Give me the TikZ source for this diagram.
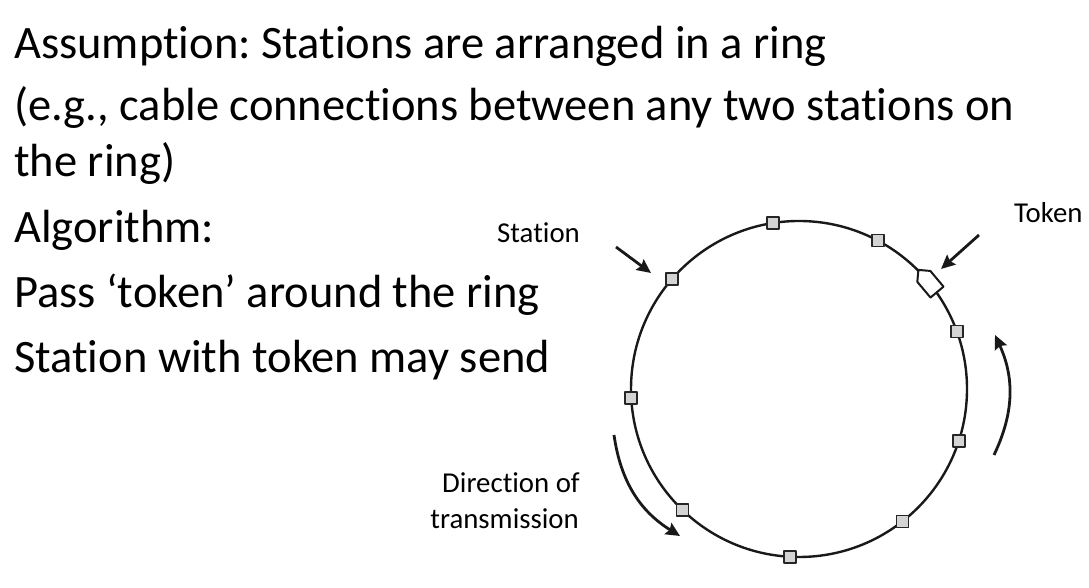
\documentclass[tikz,border=0pt]{standalone}
\usepackage{fontspec}
\setmainfont{Carlito}[Ligatures=NoCommon]
\frenchspacing
\usetikzlibrary{arrows.meta,calc}
\begin{document}
\begin{tikzpicture}[x=1pt,y=1pt,
  line join=round,
  bodytext/.style={anchor=base west, inner sep=0pt, font=\fontsize{46.5}{56}\selectfont},
  labeltext/.style={inner sep=0pt, font=\fontsize{28.8}{34}\selectfont},
  stationbox/.style={draw=black!85, fill=black!17, line width=1.6pt, minimum size=12pt, inner sep=0pt},
  ringline/.style={line width=2.4pt, black!90},
  pointer/.style={line width=2.8pt, black!90, -{Stealth[length=14pt,width=13pt,inset=2pt]}},
]
\useasboundingbox (0,0) rectangle (1089,588);

% slide text
\node[bodytext] (l1) at (14,529) {Assumption: Stations are arranged in a ring};
\node[bodytext] (l2) at (14,467) {(e.g., cable connections between any two stations on};
\node[bodytext] (l3) at (14,411) {the ring)};
\node[bodytext] (l4) at (14,345) {Algorithm:};
\node[bodytext] (l5) at (14,280) {Pass ‘token’ around the ring};
\node[bodytext] (l6) at (14,215) {Station with token may send};

% the ring and its stations
\coordinate (ctr) at (799,199);
\draw[ringline] (ctr) circle[radius=168];
\foreach \n/\a in {1/99,2/62,3/20,4/-18,5/-52,6/-93,7/-134,8/183,9/139}
  \node[stationbox] (st\n) at ($(ctr)+(\a:168)$) {};

% the token, pointing along the direction of travel
\coordinate (tok) at ($(ctr)+(40:168)$);
\begin{scope}[shift={(tok)}, rotate=130]
  \draw[draw=black!90, fill=white, line width=2pt]
    (14.5,0) -- (6,8.5) -- (-14.5,8.5) -- (-14.5,-8.5) -- (6,-8.5) -- cycle;
\end{scope}

% labels
\node[labeltext, anchor=base west] (stlab) at (497,345) {Station};
\node[labeltext, anchor=base west] (toklab) at (1014,365) {Token};
\node[labeltext, anchor=base east] (dir1) at (580,95) {Direction of};
\node[labeltext, anchor=base east] (dir2) at (579,59) {transmission};

% pointer arrows
\coordinate (sa0) at (616,341);
\coordinate (sa1) at (651,315);
\draw[pointer] (sa0) -- (sa1);
\coordinate (ta0) at (979,353);
\coordinate (ta1) at (941,319);
\draw[pointer] (ta0) -- (ta1);

% direction of transmission (counter-clockwise)
\coordinate (ra0) at (994,133);
\coordinate (ra1) at (995,253);
\draw[pointer] (ra0) to[bend right=25] (ra1);
\coordinate (la0) at (614,153);
\coordinate (la1) at (680,52);
\draw[pointer] (la0) to[bend right=25] (la1);
\end{tikzpicture}
\end{document}
